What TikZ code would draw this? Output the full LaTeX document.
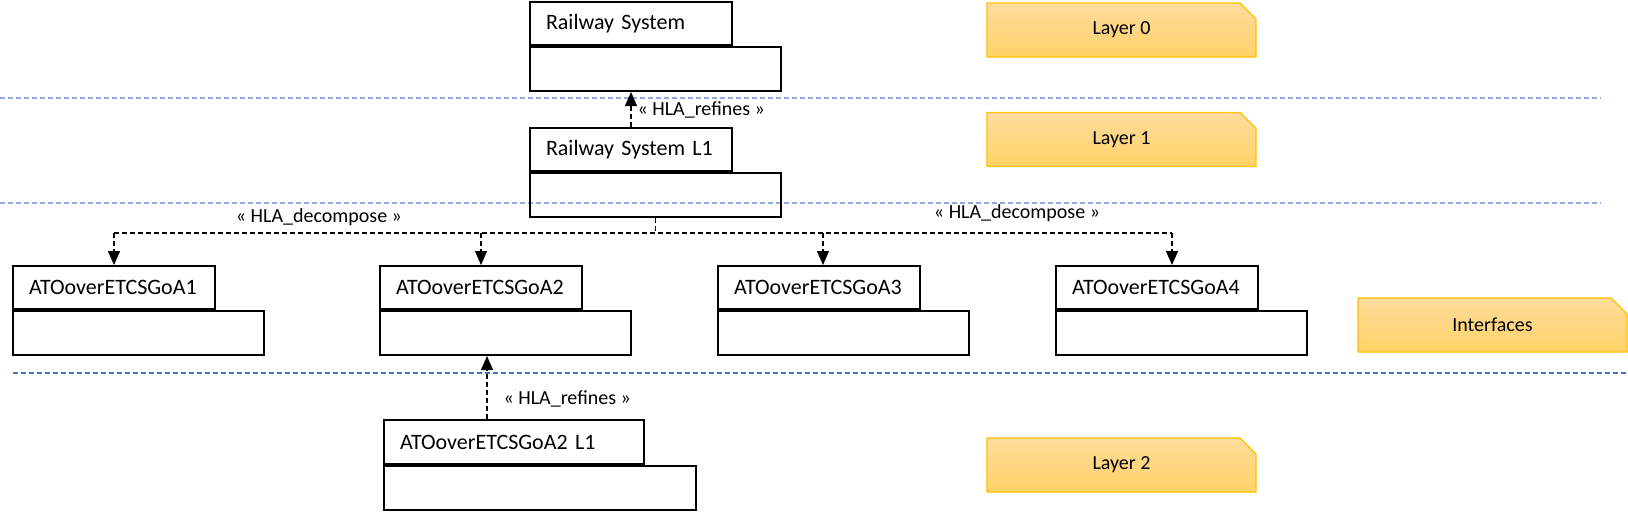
\documentclass[tikz,border=0pt]{standalone}
\usepackage{fontspec}
\setmainfont{Carlito}
\usetikzlibrary{arrows.meta,shapes.misc}
\definecolor{noteedge}{HTML}{FFC000}
\definecolor{notetop}{HTML}{FEDC9C}
\definecolor{notebot}{HTML}{FFD267}
\definecolor{sepblue}{HTML}{8FAADC}
\definecolor{sepdark}{HTML}{4472C4}
\tikzset{
  pkgtab/.style={draw, line width=1pt, anchor=north west, minimum width=101pt, minimum height=21.5pt,
    text width=85pt, inner xsep=8pt, inner ysep=0pt, align=left, font=\fontsize{11}{13}\selectfont},
  pkgbody/.style={draw, line width=1pt, anchor=north west, minimum width=125.5pt, minimum height=22pt, inner sep=0pt},
  dep/.style={line width=0.6pt, dash pattern=on 2.5pt off 1.5pt},
  deparrow/.style={dep, -{Triangle[length=7pt,width=6pt]}},
  stereo/.style={font=\fontsize{10}{12}\selectfont, inner sep=0pt},
  layernote/.style={chamfered rectangle, chamfered rectangle corners=north east,
    chamfered rectangle xsep=4pt, chamfered rectangle ysep=4pt, draw=noteedge, line width=0.6pt,
    top color=notetop, bottom color=notebot, minimum width=134.5pt, minimum height=27pt,
    font=\fontsize{10}{12}\selectfont},
  layersep/.style={sepblue, line width=0.8pt, dash pattern=on 2.5pt off 1.5pt}
}
\begin{document}
\begin{tikzpicture}[x=0.5pt,y=-0.5pt]
\useasboundingbox (0,0) rectangle (1628,511);
% layer separators
\draw[layersep] (0,98) -- (1601,98);
\draw[layersep] (0,203) -- (1601,203);
\draw[layersep, sepdark] (13,373) -- (1628,373);
% layer 0
\node[pkgtab] (rs) at (529,1) {Railway System};
\node[pkgbody] (rsbody) at (rs.south west) {};
% layer 1
\node[pkgtab] (rsl) at (529,127) {Railway System L1};
\node[pkgbody] (rslbody) at (rsl.south west) {};
\draw[deparrow] (rsl.north) -- (rsl.north |- rsbody.south) node[stereo, midway, right=3pt] {« HLA\_refines »};
% interfaces
\foreach \n/\x in {1/12,2/379,3/717,4/1055}{
  \node[pkgtab] (goa\n) at (\x,265) {ATOoverETCSGoA\n};
  \node[pkgbody] (goa\n body) at (goa\n.south west) {};
}
\coordinate (bus) at (rslbody.south |- 0,233);
\foreach \n/\x in {1/114,2/481,3/823,4/1172} \coordinate (d\n) at (\x,233);
\draw[dep] (rslbody.south) -- (bus);
\draw[dep] (d1) -- (d4);
\foreach \n in {1,...,4} \draw[deparrow] (d\n) -- (d\n |- goa\n.north);
\node[stereo] (decleft) at (319,217) {« HLA\_decompose »};
\node[stereo] (decright) at (1017,213) {« HLA\_decompose »};
% layer 2
\node[pkgtab, minimum width=130pt, minimum height=22pt, text width=114pt] (goal) at (383,419) {ATOoverETCSGoA2 L1};
\node[pkgbody, minimum width=156pt] (goalbody) at (goal.south west) {};
\coordinate (rf) at ([xshift=52pt]goal.north west);
\draw[deparrow] (rf) -- (rf |- goa2body.south) node[stereo, pos=0.32, right=8pt] {« HLA\_refines »};
% notes
\node[layernote] (lay0) at (1121.5,30) {Layer 0};
\node[layernote] (lay1) at (1121.5,139.5) {Layer 1};
\node[layernote] (intf) at (1492.5,325) {Interfaces};
\node[layernote] (lay2) at (1121.5,465) {Layer 2};
\end{tikzpicture}
\end{document}
